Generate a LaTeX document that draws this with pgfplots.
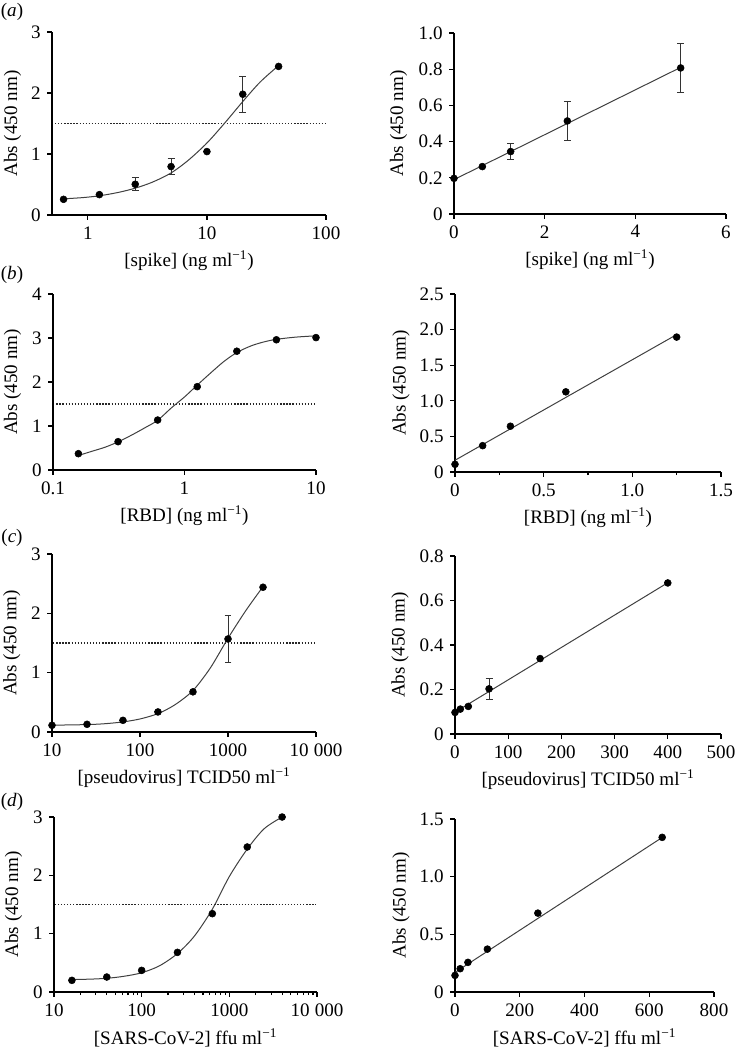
\documentclass[border=0pt]{standalone}
\usepackage{fontspec}
\setmainfont{Liberation Serif}
\usepackage{pgfplots}
\pgfplotsset{compat=1.18}
\newcommand\fs{\fontsize{14.3pt}{17pt}\selectfont}
\pgfplotsset{
  every axis/.append style={
    scale only axis, axis lines*=left, axis line style={-, line width=1pt, black},
    tick style={line width=0.9pt, black}, major tick length=3.6pt, minor tick length=2.4pt,
    tick align=outside, clip=false, /pgf/number format/assume math mode=true,
    tick label style={font=\fs}, label style={font=\fs},
    xlabel style={at={(axis description cs:0.5,0)}, anchor=center, yshift=-34.5pt},
    anchor=south west,
  },
  dot/.style={only marks, mark=*, mark size=2.6pt, black, mark options={fill=black}},
  fit/.style={no marks, black!75, line width=0.75pt},
  thr/.style={no marks, black!85, line width=1pt, dash pattern=on 1pt off 1.3pt},
  eb/.style={error bars/.cd, y dir=both, y explicit, error bar style={black!80, line width=0.75pt}, error mark options={rotate=90, mark size=2.6pt, black!80, line width=0.75pt}},
}
\begin{document}
\fs
\begin{tikzpicture}
\useasboundingbox (0,0) rectangle (552pt,-788.25pt);
% panel labels
\node at (9pt,-9pt) {(\textit{a})};
\node at (9pt,-206.25pt) {(\textit{b})};
\node at (9pt,-403.5pt) {(\textit{c})};
\node at (9pt,-601.5pt) {(\textit{d})};

% (a) left
\begin{axis}[at={(39pt,-161.25pt)}, width=205.5pt, height=137.25pt, xmode=log,
  xmin=0.5, xmax=100, ymin=0, ymax=3, xtick={1,10,100}, xticklabels={1,10,100},
  minor x tick style={draw=none}, ytick={0,1,2,3},
  xlabel={[spike] (ng ml\textsuperscript{−1})}, ylabel={Abs (450 nm)},
  ylabel style={at={(axis description cs:-0.144,0.5)}, anchor=center}]
\addplot[thr] coordinates {(0.53,1.5) (98,1.5)};
\addplot[fit, smooth] coordinates {(0.625,0.265) (0.9,0.285) (1.25,0.315) (1.8,0.37) (2.5,0.44) (3.5,0.54) (5,0.69) (7,0.90) (10,1.18) (14,1.50) (20,1.86) (28,2.18) (40,2.45)};
\addplot[dot, eb] coordinates {(0.625,0.257) +- (0,0) (1.25,0.334) +- (0,0) (2.5,0.504) +- (0,0.11) (5,0.794) +- (0,0.13) (10,1.04) +- (0,0) (20,1.98) +- (0,0.295) (40,2.436) +- (0,0)};
\end{axis}

% (a) right
\begin{axis}[at={(340.5pt,-160.5pt)}, width=204pt, height=135.75pt,
  xmin=0, xmax=6, ymin=0, ymax=1, xtick={0,2,4,6}, xticklabels={0,2,4,6},
  ytick={0,0.2,0.4,0.6,0.8,1.0}, yticklabels={0,0.2,0.4,0.6,0.8,1.0},
  xlabel={[spike] (ng ml\textsuperscript{−1})}, ylabel={Abs (450 nm)},
  ylabel style={at={(axis description cs:-0.204,0.5)}, anchor=center}]
\addplot[fit] coordinates {(0,0.19) (5,0.81)};
\addplot[dot, eb] coordinates {(0,0.197) +- (0,0) (0.625,0.262) +- (0,0) (1.25,0.345) +- (0,0.046) (2.5,0.514) +- (0,0.11) (5,0.807) +- (0,0.133)};
\end{axis}

% (b) left
\begin{axis}[at={(39.75pt,-352.5pt)}, width=197.25pt, height=132pt, xmode=log,
  xmin=0.1, xmax=10, ymin=0, ymax=4, xtick={0.1,1,10}, xticklabels={0.1,1,10},
  minor x tick style={draw=none}, ytick={0,1,2,3,4},
  xlabel={[RBD] (ng ml\textsuperscript{−1})}, ylabel={Abs (450 nm)},
  ylabel style={at={(axis description cs:-0.154,0.5)}, anchor=center}]
\addplot[thr] coordinates {(0.106,1.5) (9.9,1.5)};
\addplot[fit, smooth] coordinates {(0.156,0.33) (0.2,0.43) (0.25,0.52) (0.3125,0.64) (0.4,0.80) (0.5,0.96) (0.625,1.13) (0.8,1.42) (1.0,1.66) (1.25,1.93) (1.6,2.22) (2.0,2.47) (2.5,2.67) (3.2,2.82) (4,2.91) (5,2.97) (7,3.02) (10,3.05)};
\addplot[dot] coordinates {(0.156,0.371) (0.3125,0.644) (0.625,1.136) (1.25,1.894) (2.5,2.70) (5,2.96) (10,3.01)};
\end{axis}

% (b) right
\begin{axis}[at={(341.25pt,-354pt)}, width=199.5pt, height=133.5pt,
  xmin=0, xmax=1.5, ymin=0, ymax=2.5, xtick={0,0.5,1,1.5}, xticklabels={0,0.5,1.0,1.5},
  minor xtick={0.25,0.75,1.25},
  ytick={0,0.5,1,1.5,2,2.5}, yticklabels={0,0.5,1.0,1.5,2.0,2.5},
  xlabel={[RBD] (ng ml\textsuperscript{−1})}, ylabel={Abs (450 nm)},
  ylabel style={at={(axis description cs:-0.203,0.5)}, anchor=center}]
\addplot[fit] coordinates {(0,0.165) (1.25,1.93)};
\addplot[dot] coordinates {(0,0.108) (0.156,0.37) (0.3125,0.643) (0.625,1.126) (1.25,1.895)};
\end{axis}

% (c) left
\begin{axis}[at={(39pt,-549pt)}, width=198pt, height=133.5pt, xmode=log,
  xmin=10, xmax=10000, ymin=0, ymax=3, xtick={10,100,1000,10000}, xticklabels={10,100,1000,10\;000},
  minor x tick style={draw=none}, ytick={0,1,2,3},
  xlabel={[pseudovirus] TCID50 ml\textsuperscript{−1}}, ylabel={Abs (450 nm)},
  ylabel style={at={(axis description cs:-0.152,0.5)}, anchor=center}]
\addplot[thr] coordinates {(10.3,1.5) (9600,1.5)};
\addplot[fit, smooth] coordinates {(10,0.115) (25,0.125) (40,0.14) (64,0.17) (100,0.22) (160,0.31) (250,0.46) (400,0.70) (630,1.08) (1000,1.58) (1600,2.05) (2500,2.45)};
\addplot[dot, eb] coordinates {(10,0.113) +- (0,0) (25,0.13) +- (0,0) (64,0.197) +- (0,0) (160,0.338) +- (0,0) (400,0.677) +- (0,0) (1000,1.568) +- (0,0.39) (2500,2.44) +- (0,0)};
\end{axis}

% (c) right
\begin{axis}[at={(341.25pt,-550.5pt)}, width=199.5pt, height=133.5pt,
  xmin=0, xmax=500, ymin=0, ymax=0.8, xtick={0,100,200,300,400,500}, xticklabels={0,100,200,300,400,500},
  ytick={0,0.2,0.4,0.6,0.8}, yticklabels={0,0.2,0.4,0.6,0.8},
  xlabel={[pseudovirus] TCID50 ml\textsuperscript{−1}}, ylabel={Abs (450 nm)},
  ylabel style={at={(axis description cs:-0.207,0.5)}, anchor=center}]
\addplot[fit] coordinates {(0,0.098) (400,0.68)};
\addplot[dot, eb] coordinates {(0,0.097) +- (0,0) (10,0.112) +- (0,0) (25,0.124) +- (0,0) (64,0.203) +- (0,0.046) (160,0.339) +- (0,0) (400,0.679) +- (0,0)};
\end{axis}

% (d) left
\begin{axis}[at={(40.5pt,-744pt)}, width=197.25pt, height=131.25pt, xmode=log,
  xmin=10, xmax=10000, ymin=0, ymax=3, xtick={10,100,1000,10000}, xticklabels={10,100,1000,10\;000},
  minor xtick={20,30,40,50,60,70,80,90,200,300,400,500,600,700,800,900,2000,3000,4000,5000,6000,7000,8000,9000},
  ytick={0,1,2,3},
  xlabel={[SARS-CoV-2] ffu ml\textsuperscript{−1}}, ylabel={Abs (450 nm)},
  ylabel style={at={(axis description cs:-0.154,0.5)}, anchor=center}]
\addplot[thr] coordinates {(10.2,1.5) (9600,1.5)};
\addplot[fit, smooth] coordinates {(16,0.215) (25,0.22) (40,0.235) (63,0.27) (100,0.33) (160,0.45) (256,0.66) (400,0.96) (640,1.42) (1000,1.98) (1600,2.45) (2500,2.80) (4000,3.0)};
\addplot[dot] coordinates {(16,0.2) (40,0.257) (100,0.371) (256,0.68) (640,1.343) (1600,2.486) (4000,3.0)};
\end{axis}

% (d) right
\begin{axis}[at={(341.25pt,-744pt)}, width=194.25pt, height=129.75pt,
  xmin=0, xmax=800, ymin=0, ymax=1.5, xtick={0,200,400,600,800}, xticklabels={0,200,400,600,800},
  ytick={0,0.5,1,1.5}, yticklabels={0,0.5,1.0,1.5},
  xlabel={[SARS-CoV-2] ffu ml\textsuperscript{−1}}, ylabel={Abs (450 nm)},
  ylabel style={at={(axis description cs:-0.208,0.5)}, anchor=center}]
\addplot[fit] coordinates {(0,0.17) (640,1.34)};
\addplot[dot] coordinates {(0,0.144) (16,0.202) (40,0.257) (100,0.372) (256,0.684) (640,1.341)};
\end{axis}
\end{tikzpicture}
\end{document}
